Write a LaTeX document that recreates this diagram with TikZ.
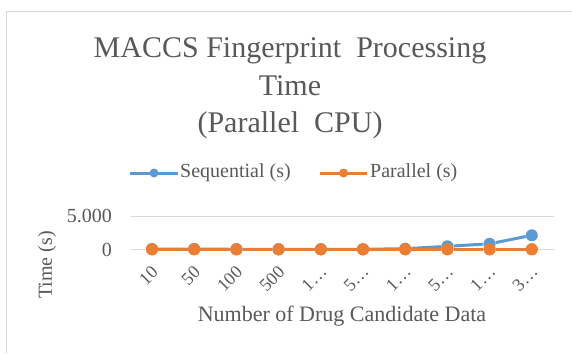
\documentclass[tikz,border=0pt]{standalone}
\usepackage{fontspec}
\setmainfont{Liberation Serif}
\definecolor{seqblue}{HTML}{5B9BD5}
\definecolor{parorange}{HTML}{ED7D31}
\definecolor{gridgray}{HTML}{D9D9D9}
\definecolor{txtgray}{HTML}{595959}
\begin{document}
\begin{tikzpicture}[x=1pt,y=-1pt,
  lbl/.style={text=txtgray, inner sep=0pt},
  dotb/.style={circle, fill=seqblue, inner sep=0pt, minimum size=12pt},
  doto/.style={circle, fill=parorange, inner sep=0pt, minimum size=12pt},
  sline/.style={seqblue, line width=3pt},
  pline/.style={parorange, line width=3pt},
  gridl/.style={gridgray, line width=1pt}]
\useasboundingbox (0,0) rectangle (572,353);
\fill[white] (0,0) rectangle (572,353);
% frame
\draw[gridgray, line width=1.2pt] (6.5,353) -- (6.5,11.5) -- (572,11.5);
% title
\node[lbl, font=\fontsize{30}{37}\selectfont, anchor=base] (title1) at (290,58) {MACCS Fingerprint\ \ Processing};
\node[lbl, font=\fontsize{30}{37}\selectfont, anchor=base] (title2) at (290,95) {Time};
\node[lbl, font=\fontsize{30}{37}\selectfont, anchor=base] (title3) at (290,132) {(Parallel\ \ CPU)};
% legend
\coordinate (lb1) at (130,173); \coordinate (lb2) at (178,173);
\coordinate (lo1) at (320,173); \coordinate (lo2) at (367,173);
\draw[sline] (lb1) -- (lb2);
\node[dotb, minimum size=9pt] (lbm) at (154,173) {};
\node[lbl, anchor=west, font=\fontsize{20}{24}\selectfont] (lbt) at (180,173) {Sequential (s)};
\draw[pline] (lo1) -- (lo2);
\node[doto, minimum size=9pt] (lom) at (343.5,173) {};
\node[lbl, anchor=west, font=\fontsize{20}{24}\selectfont] (lot) at (370,173) {Parallel (s)};
% axes
\coordinate (g1) at (131,216); \coordinate (g2) at (554,216);
\coordinate (z1) at (131,249.3); \coordinate (z2) at (554,249.3);
\draw[gridl] (g1) -- (g2);
\draw[gridl] (z1) -- (z2);
\node[lbl, anchor=east, font=\fontsize{20}{24}\selectfont] (y5) at (112,216) {5.000};
\node[lbl, anchor=east, font=\fontsize{20}{24}\selectfont] (y0) at (112,250) {0};
\node[lbl, rotate=90, font=\fontsize{20}{24}\selectfont] (ytitle) at (47,265) {Time (s)};
\node[lbl, font=\fontsize{22}{26}\selectfont] (xtitle) at (342,316) {Number of Drug Candidate Data};
% data
\foreach \i/\v/\t in {0/0.3/10,1/0.3/50,2/0/100,3/0/500,4/0/1…,5/0/5…,6/0.6/1…,7/3/5…,8/5.5/1…,9/14/3…}{
  \node[dotb] (s\i) at (152+42.2*\i, 249.3-\v) {};
  \node[doto] (p\i) at (152+42.2*\i, 249.3) {};
  \node[lbl, rotate=45, anchor=east, font=\fontsize{18}{22}\selectfont] (t\i) at (152+42.2*\i+3, 269) {\t};
}
\draw[sline] (s0) -- (s1) -- (s2) -- (s3) -- (s4) -- (s5) -- (s6) -- (s7) -- (s8) -- (s9);
\foreach \i in {0,...,9}{ \node[doto] (q\i) at (p\i) {}; }
\draw[pline] (p0) -- (p1) -- (p2) -- (p3) -- (p4) -- (p5) -- (p6) -- (p7) -- (p8) -- (p9);
\end{tikzpicture}
\end{document}
